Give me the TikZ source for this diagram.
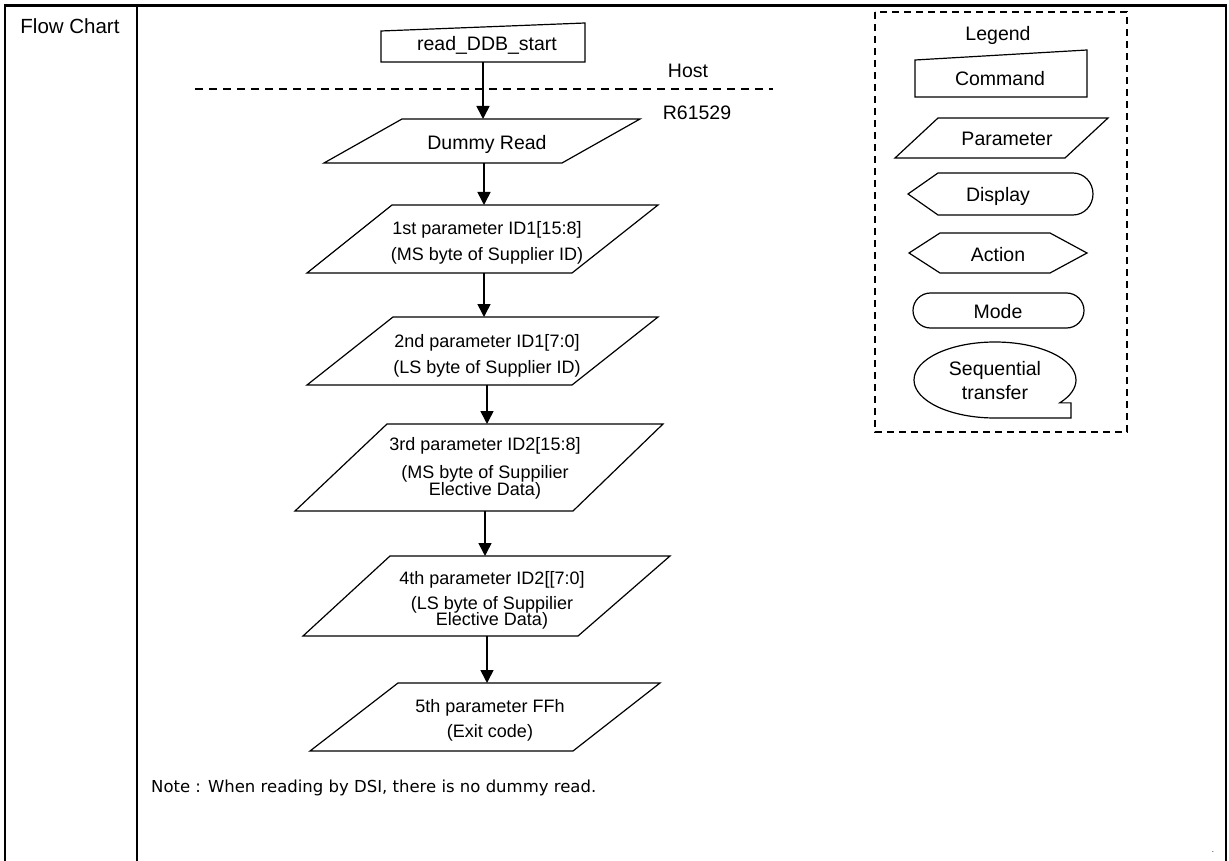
\documentclass[tikz,border=0pt]{standalone}
\usepackage{fontspec}
\setmainfont{Liberation Sans}
\newfontfamily\notefont{DejaVu Sans}
\usetikzlibrary{arrows.meta}
\begin{document}
\begin{tikzpicture}[x=1pt,y=-1pt,
  shp/.style={draw=black, line width=1.2pt, line join=miter, fill=white},
  conn/.style={line width=1.6pt, -{Triangle[length=13pt,width=13pt]}},
  big/.style={inner sep=0pt, yshift=-3pt, text height=0.9em, text depth=0pt, font=\fontsize{19.5}{23}\selectfont},
  par/.style={inner sep=0pt, yshift=-3pt, text height=0.9em, text depth=0pt, font=\fontsize{18}{21}\selectfont},
  frameline/.style={line width=2.4pt},
  dashline/.style={line width=1.3pt, dash pattern=on 8pt off 6pt},
]
\useasboundingbox (0,0) rectangle (1229,861);
\fill[white] (0,0) rectangle (1229,861);
% frame
\draw[frameline] (5,861) -- (5,5.5) -- (1226,5.5) -- (1226,861);
\draw[frameline] (137,5.5) -- (137,861);
\node[big, font=\fontsize{20.5}{24}\selectfont] (fc) at (70,26) {Flow Chart};

% host / R61529 separation
\draw[dashline] (195,89) -- (773,89);
\node[big] (host) at (688,70) {Host};
\node[big] (r6) at (697,112) {R61529};

% command
\draw[shp] (381,31) -- (585,23) -- (585,62) -- (381,62) -- cycle;
\node[big] (cmd) at (487,43) {read\_DDB\_start};
\coordinate (cmdB) at (483,62);

% dummy read
\draw[shp] (402,119) -- (640,119) -- (562,163) -- (324,163) -- cycle;
\node[big] (dr) at (487,142) {Dummy Read};
\coordinate (drT) at (483,119);
\coordinate (drB) at (484,163);

% 1st
\draw[shp] (392,205) -- (658,205) -- (572,273) -- (307,273) -- cycle;
\node[par] (p1a) at (487,227) {1st parameter ID1[15:8]};
\node[par] (p1b) at (487,253) {(MS byte of Supplier ID)};
\coordinate (p1T) at (484,205);
\coordinate (p1B) at (484,273);

% 2nd
\draw[shp] (393,317) -- (658,317) -- (572,385) -- (307,385) -- cycle;
\node[par] (p2a) at (487,340) {2nd parameter ID1[7:0]};
\node[par] (p2b) at (487,366) {(LS byte of Supplier ID)};
\coordinate (p2T) at (484,317);
\coordinate (p2B) at (487,385);

% 3rd
\draw[shp] (387,424) -- (663,424) -- (573,511) -- (295,511) -- cycle;
\node[par] (p3a) at (485,443) {3rd parameter ID2[15:8]};
\node[par] (p3b) at (485,471) {(MS byte of Suppilier};
\node[par] (p3c) at (485,488) {Elective Data)};
\coordinate (p3T) at (487,424);
\coordinate (p3B) at (485,511);

% 4th
\draw[shp] (390,556) -- (670,556) -- (578,636) -- (303,636) -- cycle;
\node[par] (p4a) at (492,577) {4th parameter ID2[[7:0]};
\node[par] (p4b) at (492,602) {(LS byte of Suppilier};
\node[par] (p4c) at (492,618) {Elective Data)};
\coordinate (p4T) at (485,556);
\coordinate (p4B) at (487,636);

% 5th
\draw[shp] (398,683) -- (660,683) -- (573,751) -- (310,751) -- cycle;
\node[par] (p5a) at (490,705) {5th parameter FFh};
\node[par] (p5b) at (490,730) {(Exit code)};
\coordinate (p5T) at (487,683);

% connectors
\draw[conn] (cmdB) -- (drT);
\draw[conn] (drB) -- (p1T);
\draw[conn] (p1B) -- (p2T);
\draw[conn] (p2B) -- (p3T);
\draw[conn] (p3B) -- (p4T);
\draw[conn] (p4B) -- (p5T);

% note
\node[anchor=west, inner sep=0pt, yshift=-3pt, text height=0.9em, text depth=0pt, font=\notefont\fontsize{16.5}{20}\selectfont] (note) at (151,785) {Note : When reading by DSI, there is no dummy read.};
\node[inner sep=0pt, font=\fontsize{8}{8}\selectfont] (dot) at (1213,852) {.};

% legend
\draw[line width=1.3pt, dash pattern=on 7pt off 5pt] (875,12) rectangle (1127,432);
\node[big] (lg) at (998,33) {Legend};
\draw[shp] (915,60) -- (1087,50) -- (1087,97) -- (915,97) -- cycle;
\node[big] (lcmd) at (1000,78) {Command};
\draw[shp] (938,118) -- (1108,118) -- (1065,158) -- (895,158) -- cycle;
\node[big] (lpar) at (1007,138) {Parameter};
\draw[shp] (908,194) -- (938,173) -- (1073,173) arc[start angle=-90, end angle=90, x radius=20, y radius=21] -- (938,215) -- cycle;
\node[big] (ldisp) at (998,194) {Display};
\draw[shp] (909,253) -- (940,233) -- (1050,233) -- (1087,253) -- (1050,273) -- (940,273) -- cycle;
\node[big] (lact) at (998,254) {Action};
\draw[shp, rounded corners=17.5pt] (913,293) rectangle (1084,328);
\node[big] (lmode) at (998,311) {Mode};
\draw[shp] (995,418) arc[start angle=90, end angle=397, x radius=81, y radius=38] -- (1071,402.9) -- (1071,418) -- cycle;
\node[big] (lseq1) at (995,368) {Sequential};
\node[big] (lseq2) at (995,392) {transfer};
\end{tikzpicture}
\end{document}
